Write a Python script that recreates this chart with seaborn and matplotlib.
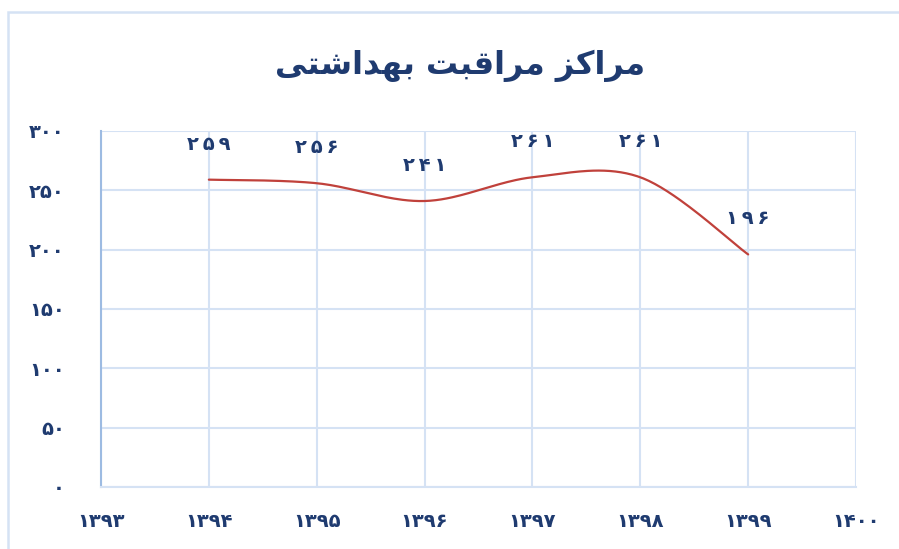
import numpy as np
import pandas as pd
import matplotlib
matplotlib.use("Agg")
import matplotlib.pyplot as plt
from matplotlib.patches import Rectangle
import seaborn as sns

# --- data -------------------------------------------------------------
years = [1394, 1395, 1396, 1397, 1398, 1399]
centers = [259, 256, 241, 261, 261, 196]
x_ticks = [1393, 1394, 1395, 1396, 1397, 1398, 1399, 1400]
y_ticks = [0, 50, 100, 150, 200, 250, 300]

# title "مراکز مراقبت بهداشتی" in contextual (presentation) forms, visual order
title_words = [
    "\uFEE3\uFEAE\uFE8D\uFB90\uFEB0",          # مراکز
    "\uFEE3\uFEAE\uFE8D\uFED7\uFE92\uFE96",    # مراقبت
    "\uFE91\uFEEC\uFEAA\uFE8D\uFEB7\uFE98\uFEF0",  # بهداشتی
]
title_text = " ".join(title_words)[::-1]

NAVY = "#1F3B70"
GRID = "#D5E2F4"
SPINE = "#9DBBE2"
LINE = "#C0413B"

PERSIAN = str.maketrans("0123456789", "۰۱۲۳۴۵۶۷۸۹")


def fa(n):
    return str(n).translate(PERSIAN)


def smooth(xs, ys, n=40):
    """Catmull-Rom style bezier smoothing (like a spreadsheet's smoothed line)."""
    P = np.column_stack([xs, ys]).astype(float)
    ext = np.vstack([P[0], P, P[-1]])
    out = []
    t = np.linspace(0, 1, n)[:, None]
    for i in range(len(P) - 1):
        p0, p3 = ext[i + 1], ext[i + 2]
        c1 = p0 + (ext[i + 2] - ext[i]) / 6
        c2 = p3 - (ext[i + 3] - ext[i + 1]) / 6
        seg = ((1 - t) ** 3) * p0 + 3 * ((1 - t) ** 2) * t * c1 + 3 * (1 - t) * t ** 2 * c2 + t ** 3 * p3
        out.append(seg if i == 0 else seg[1:])
    return np.vstack(out)


sns.set_theme(style="white")
plt.rcParams["font.family"] = ["DejaVu Sans"]

fig = plt.figure(figsize=(8.99, 5.49), dpi=100)
ax = fig.add_axes([101 / 899, 1 - 487 / 549, 755 / 899, 356 / 549])

curve = smooth(years, centers)
df = pd.DataFrame({"year": curve[:, 0], "value": curve[:, 1]})
sns.lineplot(data=df, x="year", y="value", sort=False, estimator=None,
             color=LINE, linewidth=1.6, ax=ax)

for x, v in zip(years, centers):
    ax.annotate("\u2009".join(fa(v)), (x, v), xytext=(0, 25.5), textcoords="offset points",
                ha="center", va="center", fontsize=14, color=NAVY, fontweight="bold")

ax.set_xlim(1393, 1400)
ax.set_ylim(0, 300)
ax.set_xticks(x_ticks)
ax.set_yticks(y_ticks)
ax.set_xticklabels([fa(v) for v in x_ticks])
ax.set_yticklabels([fa(v) for v in y_ticks])
ax.tick_params(axis="both", length=0, labelsize=14, labelcolor=NAVY)
ax.tick_params(axis="y", pad=26)
ax.tick_params(axis="x", pad=18)
for lab in ax.get_xticklabels() + ax.get_yticklabels():
    lab.set_fontweight("bold")
ax.set_xlabel("")
ax.set_ylabel("")
ax.grid(True, color=GRID, linewidth=1.5)
ax.set_axisbelow(True)
for side in ("top", "right"):
    ax.spines[side].set_visible(False)
ax.spines["left"].set_color(SPINE)
ax.spines["left"].set_linewidth(1.5)
ax.spines["bottom"].set_color(GRID)
ax.spines["bottom"].set_linewidth(1.5)

fig.text(460 / 899, 1 - 66 / 549, title_text, ha="center", va="center",
         fontsize=23, fontweight="bold", color=NAVY)

fig.patches.append(Rectangle((8 / 899, -0.2), 2, 1.2 - 12 / 549, transform=fig.transFigure,
                             fill=False, edgecolor=GRID, linewidth=1.8))

fig.savefig("out.png", dpi=100)
